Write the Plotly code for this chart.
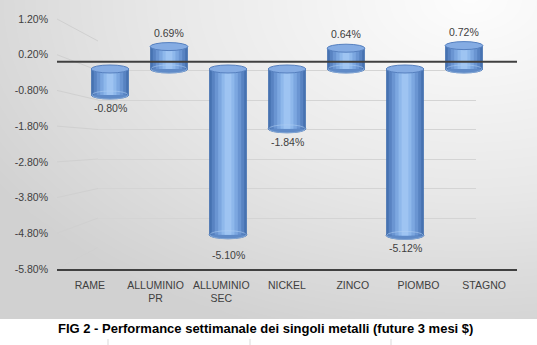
import numpy as np
import plotly.graph_objects as go

# Weekly performance of base metals (3-month futures, %)
categories = ["RAME", "ALLUMINIO PR", "ALLUMINIO SEC", "NICKEL", "ZINCO", "PIOMBO", "STAGNO"]
tick_labels = ["RAME", "ALLUMINIO<br>PR", "ALLUMINIO<br>SEC", "NICKEL", "ZINCO", "PIOMBO", "STAGNO"]
values = [-0.80, 0.69, -5.10, -1.84, 0.64, -5.12, 0.72]
y_ticks = [1.2, 0.2, -0.8, -1.8, -2.8, -3.8, -4.8, -5.8]
y_tick_labels = [f"{v:.2f}%" for v in y_ticks]
title = "FIG 2 - Performance settimanale dei singoli metalli (future 3 mesi $)"

W, H = 537, 345
AREA_H = 319  # height of the grey chart area above the caption
Y_MIN, Y_MAX = -5.8, 1.2
FONT = "Liberation Sans, Arial, sans-serif"
TXT = "#404040"

# pseudo-3D geometry: (left px, right px, top px for Y_MAX, bottom px for Y_MIN)
FRONT = (57, 517, 19, 269)
MID = (80.5, 493.5, 30, 257.5)
BACK = (98, 476, 41, 247.5)


def xdom(g):
    return [g[0] / W, g[1] / W]


def ydom(g):
    return [1 - g[3] / H, 1 - g[2] / H]


def py(g, v):
    """pixel row of value v on a wall with geometry g"""
    return g[2] + (Y_MAX - v) / (Y_MAX - Y_MIN) * (g[3] - g[2])


BAR_W = 0.64
CAP_H = 4 / ((MID[3] - MID[2]) / (Y_MAX - Y_MIN))  # ellipse half-height in data units

fig = go.Figure()

# background shading: light corner at the top right fading to grey
gx = np.linspace(0, W, 60)
gy = np.linspace(0, AREA_H, 36)
GX, GY = np.meshgrid(gx, gy)
shade = np.clip(np.sqrt(((GX - 470) / 560) ** 2 + (GY / 350) ** 2), 0, 1)
fig.add_trace(go.Heatmap(
    x=gx, y=gy, z=shade, zmin=0, zmax=1, zsmooth="best",
    colorscale=[[0, "#fdfdfd"], [0.55, "#e8e8e8"], [1, "#d1d1d1"]],
    showscale=False, hoverinfo="skip", xaxis="x", yaxis="y",
))

# side wall gridlines joining the front and the back scales
wall_x, wall_y = [], []
for v in y_ticks:
    wall_x += [FRONT[0], BACK[0], None]
    wall_y += [py(FRONT, v), py(BACK, v), None]
fig.add_trace(go.Scatter(
    x=wall_x, y=wall_y, mode="lines", line=dict(color="#d0d0d0", width=1),
    hoverinfo="skip", showlegend=False, xaxis="x", yaxis="y",
))

# cylinder body: stacked bars, narrower and lighter towards the highlight
body = [(1.00, "#4672b1"), (0.86, "#5883c2"), (0.70, "#6a95d2"),
        (0.52, "#7ca7e0"), (0.34, "#8eb8eb"), (0.18, "#9ec4f2")]
for frac, col in body:
    fig.add_trace(go.Bar(
        x=categories, y=values, width=BAR_W * frac,
        marker=dict(color=col, line=dict(width=0)),
        xaxis="x3", yaxis="y3", hoverinfo="skip", showlegend=False,
    ))

shapes = []

# back wall zero line
shapes.append(dict(type="line", xref="x2 domain", yref="y2", x0=0, x1=1, y0=0, y1=0,
                   line=dict(color="#4a4a4a", width=1.6), layer="below"))

for i, v in enumerate(values):
    top, bot = max(0, v), min(0, v)
    # rounded bottom of the cylinder
    shapes.append(dict(type="circle", xref="x3", yref="y3",
                       x0=i - BAR_W / 2, x1=i + BAR_W / 2, y0=bot - CAP_H, y1=bot + CAP_H,
                       fillcolor="#5f8ac7", line=dict(color="#4672b1", width=1), layer="below"))
    shapes.append(dict(type="circle", xref="x3", yref="y3",
                       x0=i - BAR_W / 2 + 0.01, x1=i + BAR_W / 2 - 0.01,
                       y0=bot - CAP_H, y1=bot + CAP_H,
                       line=dict(color="rgba(175,205,243,0.55)", width=1), layer="above"))
    # top cap
    shapes.append(dict(type="circle", xref="x3", yref="y3",
                       x0=i - BAR_W / 2, x1=i + BAR_W / 2, y0=top - CAP_H, y1=top + CAP_H,
                       fillcolor="#85ace3", line=dict(color="#5680bf", width=1), layer="above"))

# front zero line
shapes.append(dict(type="line", xref="x4 domain", yref="y4", x0=0, x1=1, y0=0, y1=0,
                   line=dict(color="#404040", width=2), layer="above"))

# spreadsheet cell borders under the caption
for cx in (108, 250, 391):
    shapes.append(dict(type="line", xref="paper", yref="paper", x0=cx / W, x1=cx / W,
                       y0=0, y1=6 / H, line=dict(color="#d9d9d9", width=1), layer="below"))

annotations = []
for cat, v in zip(categories, values):
    shift = 14 if v >= 0 else (-20 if cat == "ALLUMINIO SEC" else -13)
    annotations.append(dict(xref="x3", yref="y3", x=cat, y=v, yshift=shift,
                            text=f"{v:.2f}%", showarrow=False,
                            font=dict(family=FONT, size=10.5, color=TXT)))
annotations.append(dict(xref="paper", yref="paper", x=265 / W, y=1 - 328 / H,
                        text=f"<b>{title}</b>", showarrow=False,
                        xanchor="center", yanchor="middle",
                        font=dict(family=FONT, size=13, color="#000000")))

hidden = dict(showgrid=False, zeroline=False, showticklabels=False, ticks="",
              showline=False, fixedrange=True, automargin=False)

fig.update_layout(
    template="none",
    width=W, height=H,
    margin=dict(l=0, r=0, t=0, b=0, pad=0),
    paper_bgcolor="#ffffff",
    plot_bgcolor="rgba(0,0,0,0)",
    barmode="overlay",
    showlegend=False,
    shapes=shapes,
    annotations=annotations,
    # background, in pixel units
    xaxis=dict(domain=[0, 1], range=[0, W], anchor="y", **hidden),
    yaxis=dict(domain=[1 - AREA_H / H, 1], range=[AREA_H, 0], anchor="x", **hidden),
    # back wall
    xaxis2=dict(domain=xdom(BACK), range=[-0.5, 6.5], anchor="y2", **hidden),
    yaxis2=dict(domain=ydom(BACK), range=[Y_MIN, Y_MAX], anchor="x2",
                tickvals=y_ticks, showticklabels=False, ticks="",
                showgrid=True, gridcolor="#d4d4d4", gridwidth=1,
                zeroline=False, showline=False, automargin=False),
    # bars
    xaxis3=dict(domain=xdom(MID), type="category", categoryorder="array",
                categoryarray=categories, range=[-0.5, 6.5], anchor="y3", **hidden),
    yaxis3=dict(domain=ydom(MID), range=[Y_MIN, Y_MAX], anchor="x3", **hidden),
    # front plane: tick labels and axis lines
    xaxis4=dict(domain=xdom(FRONT), range=[-0.5, 6.5], anchor="y4",
                tickvals=list(range(len(categories))), ticktext=tick_labels,
                showgrid=False, zeroline=False, ticks="", automargin=False,
                showline=True, linecolor="#404040", linewidth=2,
                ticklabelstandoff=5,
                tickfont=dict(family=FONT, size=10.5, color=TXT)),
    yaxis4=dict(domain=ydom(FRONT), range=[Y_MIN, Y_MAX], anchor="x4",
                tickvals=y_ticks, ticktext=y_tick_labels, automargin=False,
                showgrid=False, zeroline=False, ticks="", showline=False,
                ticklabelstandoff=8,
                tickfont=dict(family=FONT, size=10.5, color=TXT)),
)

fig.write_html("out.html")
